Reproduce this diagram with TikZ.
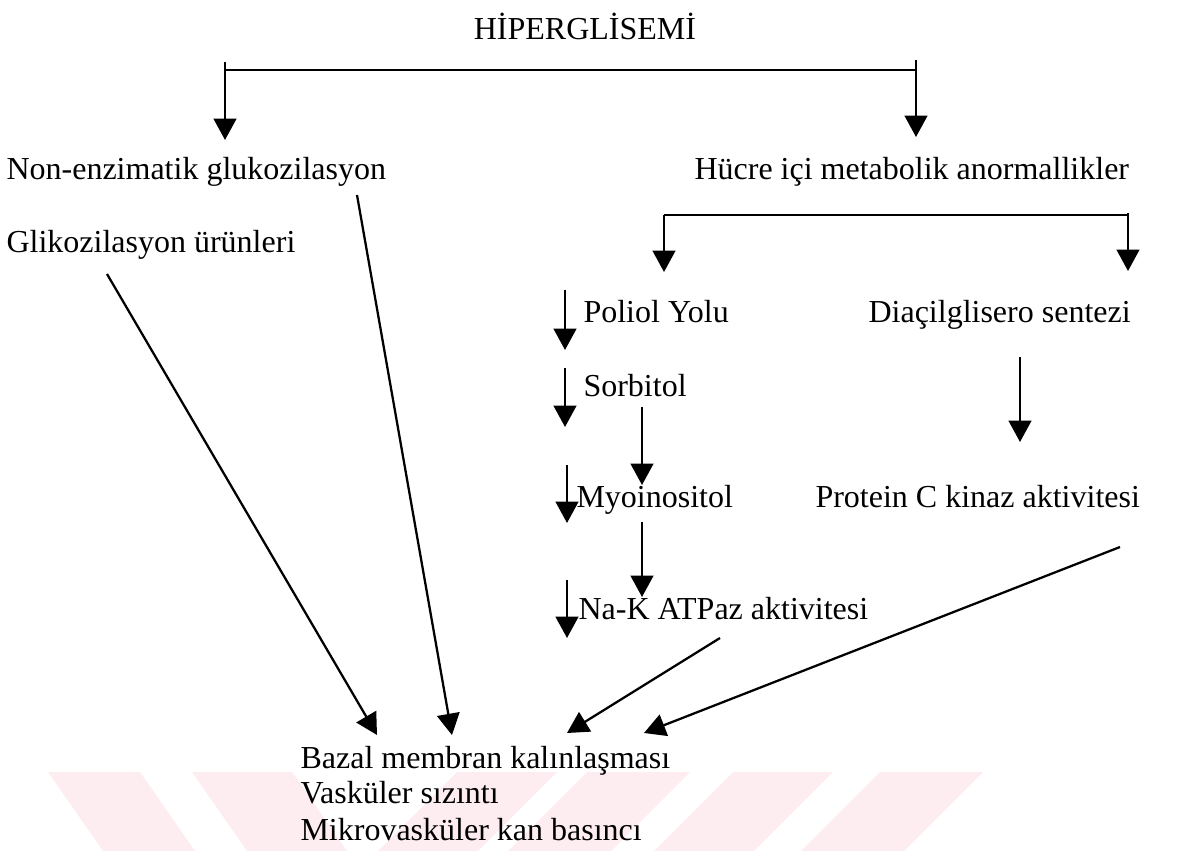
\documentclass[tikz,border=0pt]{standalone}
\usepackage{fontspec}
\setmainfont{Liberation Serif}
\usetikzlibrary{arrows.meta}
\begin{document}
\begin{tikzpicture}[x=0.375pt,y=-0.375pt,
    txt/.style={font=\fontsize{12}{14}\selectfont, anchor=base west, inner sep=0pt},
    arr/.style={line width=0.85pt, -{Triangle[length=8pt,width=8.5pt]}},
    bar/.style={line width=0.85pt},
    wm/.style={fill={rgb,255:red,253; green,236; blue,240}, draw=none}]
    \useasboundingbox (0,0) rectangle (1189,851);
    \fill [wm] (48,772) -- (140,772) -- (195,851) -- (103,851) -- cycle;
    \fill [wm] (192,772) -- (292,772) -- (347,851) -- (247,851) -- cycle;
    \fill [wm] (457,772) -- (557,772) -- (478,851) -- (378,851) -- cycle;
    \fill [wm] (587,772) -- (690,772) -- (611,851) -- (508,851) -- cycle;
    \fill [wm] (733,772) -- (833,772) -- (754,851) -- (654,851) -- cycle;
    \fill [wm] (880,772) -- (983,772) -- (904,851) -- (801,851) -- cycle;
    \node [txt, anchor=base] (hiper) at (585,40) {HİPERGLİSEMİ};
    \node [txt] (nonenz) at (6,180) {Non-enzimatik glukozilasyon};
    \node [txt] (hucre) at (694,180) {Hücre içi metabolik anormallikler};
    \node [txt] (gliko) at (6,253) {Glikozilasyon ürünleri};
    \node [txt] (poliol) at (583,323) {Poliol Yolu};
    \node [txt] (diacil) at (868,323) {Diaçilglisero sentezi};
    \node [txt] (sorbitol) at (583,397) {Sorbitol};
    \node [txt] (myo) at (576,508) {Myoinositol};
    \node [txt] (protein) at (815,508) {Protein C kinaz aktivitesi};
    \node [txt] (nak) at (578,620) {Na-K ATPaz aktivitesi};
    \node [txt] (bazal) at (300,768) {Bazal membran kalınlaşması};
    \node [txt] (vask) at (300,804) {Vasküler sızıntı};
    \node [txt] (mikro) at (300,840) {Mikrovasküler kan basıncı};
    \coordinate (topL) at (225,62);
    \coordinate (topR) at (916,60);
    \coordinate (subL) at (664,215);
    \coordinate (subR) at (1128,213);
    \draw [bar] (225,70) -- (916,70);
    \draw [arr] (topL) -- (225,140);
    \draw [arr] (topR) -- (916,137);
    \draw [bar] (subL) -- (1128,215);
    \draw [arr] (subL) -- (664,272);
    \draw [arr] (subR) -- (1128,271);
    \draw [arr] (107,274) -- (377,735);
    \draw [arr] (357,195) -- (452,735);
    \draw [arr] (565,290) -- (565,350);
    \draw [arr] (565,368) -- (565,427);
    \draw [arr] (567,465) -- (567,523);
    \draw [arr] (567,580) -- (567,638);
    \draw [arr] (642,407) -- (642,485);
    \draw [arr] (642,522) -- (642,597);
    \draw [arr] (1020,357) -- (1020,442);
    \draw [arr] (720,638) -- (567,733);
    \draw [arr] (1120,547) -- (644,733);
\end{tikzpicture}
\end{document}
